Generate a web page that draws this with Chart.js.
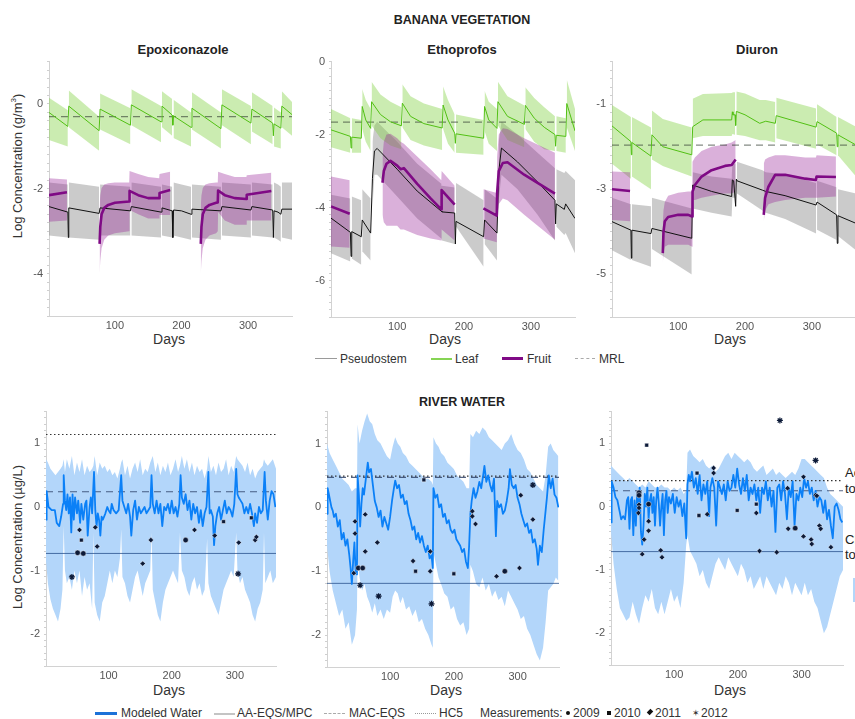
<!DOCTYPE html>
<html><head><meta charset="utf-8">
<script src="https://cdn.jsdelivr.net/npm/chart.js@4.4.1/dist/chart.umd.min.js"></script>
<style>
html,body{margin:0;padding:0;background:#fff;}
body{width:855px;height:719px;overflow:hidden;position:relative;font-family:"Liberation Sans",Arial,sans-serif;}
.t{position:absolute;white-space:nowrap;color:#222;line-height:1;}
.b{font-weight:bold;}
.ctr{transform:translateX(-50%);}
.yt{position:absolute;white-space:nowrap;font-size:13px;color:#333;transform:translate(-50%,-50%) rotate(-90deg);line-height:1;}
.lg{position:absolute;white-space:nowrap;font-size:12px;color:#333;line-height:1;}
.sw{position:absolute;}
</style></head><body>

<div class="t b ctr" style="left:462px;top:14px;font-size:12.5px;">BANANA VEGETATION</div>
<div class="t b ctr" style="left:183px;top:43px;font-size:13px;">Epoxiconazole</div>
<div class="t b ctr" style="left:462px;top:43px;font-size:13px;">Ethoprofos</div>
<div class="t b ctr" style="left:757px;top:43px;font-size:13px;">Diuron</div>
<div class="t b ctr" style="left:462px;top:396px;font-size:12.5px;">RIVER WATER</div>
<div class="yt" style="left:17px;top:166px;">Log Concentration (g/m<sup style="font-size:8px;">3</sup>)</div>
<div class="yt" style="left:17px;top:537px;">Log Concentration (µg/L)</div>
<div class="t ctr" style="left:169px;top:332px;font-size:14px;color:#333;">Days</div>
<div class="t ctr" style="left:445px;top:332px;font-size:14px;color:#333;">Days</div>
<div class="t ctr" style="left:730px;top:332px;font-size:14px;color:#333;">Days</div>
<div class="t ctr" style="left:169px;top:683px;font-size:14px;color:#333;">Days</div>
<div class="t ctr" style="left:446px;top:683px;font-size:14px;color:#333;">Days</div>
<div class="t ctr" style="left:730px;top:683px;font-size:14px;color:#333;">Days</div>

<div class="t" style="left:845px;top:466px;font-size:13px;">Acute</div>
<div class="t" style="left:845px;top:482px;font-size:13px;">toxicity</div>
<div class="t" style="left:845px;top:533px;font-size:13px;">Chronic</div>
<div class="t" style="left:845px;top:548px;font-size:13px;">toxicity</div>
<div class="sw" style="left:853px;top:578px;width:10px;height:24px;background:#b3d6fa;"></div>

<!-- top legend -->
<div class="sw" style="left:315px;top:358px;width:22px;height:1px;background:#9a9a9a;"></div>
<div class="lg" style="left:340px;top:353px;">Pseudostem</div>
<div class="sw" style="left:431px;top:358px;width:21px;height:1.5px;background:#86d454;"></div>
<div class="lg" style="left:455px;top:353px;">Leaf</div>
<div class="sw" style="left:502px;top:357px;width:21px;height:3px;background:#800a86;"></div>
<div class="lg" style="left:527px;top:353px;">Fruit</div>
<div class="sw" style="left:575px;top:358px;width:20px;height:0;border-top:1px dashed #aaa;"></div>
<div class="lg" style="left:599px;top:353px;">MRL</div>

<!-- bottom legend -->
<div class="sw" style="left:95px;top:712px;width:22px;height:3px;background:#1c72d8;"></div>
<div class="lg" style="left:121px;top:707px;">Modeled Water</div>
<div class="sw" style="left:214px;top:713px;width:21px;height:1.5px;background:#c4c4c4;"></div>
<div class="lg" style="left:237px;top:707px;">AA-EQS/MPC</div>
<div class="sw" style="left:324px;top:713px;width:21px;height:0;border-top:1px dashed #aaa;"></div>
<div class="lg" style="left:349px;top:707px;">MAC-EQS</div>
<div class="sw" style="left:415px;top:713px;width:21px;height:0;border-top:1px dotted #999;"></div>
<div class="lg" style="left:439px;top:707px;">HC5</div>
<div class="lg" style="left:480px;top:707px;">Measurements:</div>
<div class="sw" style="left:566px;top:711px;width:4px;height:4px;border-radius:50%;background:#111;"></div>
<div class="lg" style="left:573px;top:707px;">2009</div>
<div class="sw" style="left:607px;top:711px;width:4px;height:4px;background:#111;"></div>
<div class="lg" style="left:614px;top:707px;">2010</div>
<div class="sw" style="left:648px;top:710px;width:4px;height:4px;background:#111;transform:rotate(45deg) scaleY(1.3);"></div>
<div class="lg" style="left:655px;top:707px;">2011</div>
<div class="lg" style="left:692px;top:709px;font-size:9px;">&#10038;</div>
<div class="lg" style="left:701px;top:707px;">2012</div>

<script>
// ---------------- BANANA VEGETATION: Epoxiconazole ----------------
const epoxLeafDays = [1,29.3,30,30.7,76.3,77,77.7,123.3,124,124.7,169.3,170,170.7,186,187,188,214.3,215,215.7,259.3,260,260.7,304.3,305,305.7,337,338,339,349.3,350,350.7,366];
const epoxLeafMean = [-0.2,-0.53,null,-0.05,-0.63,null,-0.12,-0.5,null,-0.02,-0.42,null,-0.05,-0.26,-0.5,-0.28,-0.55,null,-0.1,-0.58,null,-0.02,-0.45,null,-0.12,-0.45,-0.75,-0.47,-0.57,null,-0.05,-0.25];
const epoxLeafHigh = [0.15,-0.15,null,0.32,-0.3,null,0.25,-0.1,null,0.35,-0.05,null,0.3,0.12,null,0.1,-0.2,null,0.28,-0.2,null,0.35,-0.05,null,0.28,-0.05,null,-0.08,-0.2,null,0.3,0.05];
const epoxLeafLow  = [-0.85,-1.0,null,-0.55,-1.1,null,-0.6,-0.95,null,-0.5,-0.9,null,-0.55,-0.75,null,-0.8,-1.0,null,-0.6,-1.05,null,-0.5,-0.95,null,-0.65,-0.95,null,-1.0,-1.05,null,-0.55,-0.75];

const epoxStemDays = [1,29.3,30,30.7,76.3,77,77.7,123.3,124,124.7,169.3,170,170.7,186,187,188,200,214.3,215,215.7,259.3,260,260.7,304.3,305,305.7,337,338,339,345,349.3,350,350.7,366];
const epoxStemMean = [-2.42,-2.55,-3.15,-2.45,-2.58,null,-2.45,-2.52,null,-2.42,-2.55,null,-2.45,-2.52,-3.15,-2.5,-2.52,-2.6,null,-2.48,-2.52,null,-2.42,-2.5,null,-2.42,-2.5,-3.15,-2.52,-2.55,-2.6,null,-2.48,-2.48];
const epoxStemHigh = [-1.85,-1.9,null,-1.85,-1.95,null,-1.9,-1.95,null,-1.85,-1.95,null,-1.9,-1.95,null,-1.85,-1.9,-1.95,null,-1.9,-1.95,null,-1.85,-1.9,null,-1.85,-1.9,null,-1.85,-1.9,-1.95,null,-1.85,-1.85];
const epoxStemLow  = [-3.1,-3.15,null,-3.15,-3.2,null,-3.1,-3.1,null,-3.1,-3.15,null,-3.1,-3.15,null,-3.1,-3.15,-3.2,null,-3.15,-3.2,null,-3.1,-3.15,null,-3.1,-3.15,null,-3.15,-3.2,-3.25,null,-3.15,-3.2];

const epoxFruitDays = [1,28,29,77,78,80,84,90,100,121.5,122,135,150,166.5,167,183,184,229,230,232,236,242,252,254.5,255,265,280,297.5,298,335];
const epoxFruitMean = [-2.15,-2.08,null,-3.3,-2.9,-2.6,-2.45,-2.38,-2.33,-2.3,-2.05,-2.15,-2.22,-2.22,-2.1,-2.03,null,-3.3,-2.9,-2.6,-2.45,-2.38,-2.33,-2.32,-2.04,-2.15,-2.22,-2.24,-2.14,-2.05];
const epoxFruitHigh = [-1.75,-1.78,null,-2.4,-2.15,-1.98,-1.9,-1.87,-1.85,-1.85,-1.58,-1.65,-1.72,-1.75,-1.65,-1.6,null,-2.4,-2.15,-1.98,-1.9,-1.87,-1.85,-1.85,-1.6,-1.65,-1.72,-1.72,-1.68,-1.62];
const epoxFruitLow  = [-2.78,-2.75,null,-4.0,-3.7,-3.4,-3.2,-3.1,-3.05,-3.0,-2.5,-2.6,-2.7,-2.7,-2.62,-2.62,null,-4.0,-3.7,-3.4,-3.2,-3.1,-3.05,-3.0,-2.55,-2.75,-2.85,-2.85,-2.75,-2.75];
const epoxMRL = -0.3;

// ---------------- Ethoprofos ----------------
const ethoLeafDays = [1,30,31,32,46.3,47,47.7,53,60.3,61,61.7,75,90,106.3,107,107.7,120,140,167.3,168,168.7,176,186,187,188,229.3,230,230.7,237,249.3,250,250.7,265,290.3,291,291.7,305,320,336,337,338,352.3,353,353.7,366];
const ethoLeafMean = [-1.87,-2.05,-2.37,-2.07,-2.1,null,-1.23,-1.6,-1.83,null,-1.1,-1.45,-1.65,-1.76,null,-1.14,-1.5,-1.7,-1.82,null,-1.19,-1.6,-1.96,-2.24,-1.98,-2.1,null,-1.23,-1.6,-1.83,null,-1.1,-1.5,-1.72,null,-1.2,-1.55,-1.8,-2.0,-2.32,-2.02,-2.05,null,-1.15,-1.9];
const ethoLeafHigh = [-1.3,-1.55,null,-1.55,-1.6,null,-0.75,-1.05,-1.3,null,-0.55,-0.9,-1.1,-1.25,null,-0.62,-0.95,-1.15,-1.3,null,-0.68,-1.05,-1.45,null,-1.45,-1.6,null,-0.8,-1.1,-1.3,null,-0.55,-0.95,-1.2,null,-0.7,-1.0,-1.25,-1.5,null,-1.5,-1.55,null,-0.5,-1.3];
const ethoLeafLow  = [-2.35,-2.5,null,-2.5,-2.5,null,-1.85,-2.2,-2.45,null,-1.75,-2.1,-2.3,-2.4,null,-1.8,-2.15,-2.3,-2.42,null,-1.85,-2.25,-2.5,null,-2.5,-2.55,null,-1.9,-2.25,-2.45,null,-1.75,-2.15,-2.35,null,-1.85,-2.2,-2.4,-2.45,null,-2.45,-2.5,null,-1.8,-2.45];

const ethoStemDays = [1,30,31,32,46.3,47,47.7,60.3,61,63,66,70,100,130,166,167,186,187,188,229.3,230,230.7,249.3,250,252,256,280,310,336,337,338,350,352,366];
const ethoStemMean = [-4.29,-4.68,-5.34,-4.66,-4.8,null,-4.34,-4.7,null,-3.2,-2.45,-2.38,-2.95,-3.55,-4.1,-4.12,-4.15,-5.0,-4.38,-4.8,null,-4.34,-4.7,null,-3.0,-2.37,-2.75,-3.3,-3.8,-4.45,-3.9,-4.05,-3.9,-4.3];
const ethoStemHigh = [-3.65,-3.75,null,-3.7,-3.8,null,-3.5,-3.75,null,-2.2,-1.75,-1.65,-2.2,-2.8,-3.35,-3.4,-3.45,null,-3.33,-3.8,null,-3.5,-3.75,null,-2.2,-1.65,-2.0,-2.5,-2.92,null,-2.95,-3.05,-3.0,-3.25];
const ethoStemLow  = [-5.25,-5.48,null,-5.4,-5.57,null,-5.2,-5.45,null,-4.0,-3.1,-3.1,-3.7,-4.3,-4.85,-4.9,-5.0,null,-4.52,-5.62,null,-5.0,-5.45,null,-3.8,-3.1,-3.5,-4.2,-4.9,null,-4.52,-4.75,-4.7,-5.25];

const ethoFruitDays = [1,29,30,78,80,84,90,100,105,110,130,150,166,166.5,186,187,229,249,249.5,252,258,265,290,336];
const ethoFruitMean = [-3.97,-4.17,null,-3.32,-3.0,-2.8,-2.72,-2.85,-2.95,-2.92,-3.35,-3.75,-4.05,-3.52,-3.92,null,-4.02,-4.22,-3.6,-3.0,-2.78,-2.76,-3.1,-3.62];
const ethoFruitHigh = [-3.15,-3.25,null,-2.6,-2.2,-2.0,-1.98,-2.1,-2.2,-2.25,-2.6,-2.95,-3.25,-3.0,-3.4,null,-3.5,-3.6,-2.6,-2.0,-1.83,-1.85,-2.1,-2.5];
const ethoFruitLow  = [-5.07,-5.1,null,-4.2,-4.4,-4.5,-4.5,-4.5,-4.6,-4.6,-4.75,-4.85,-4.9,-4.6,-4.9,null,-4.85,-4.95,-4.3,-3.9,-3.75,-3.8,-4.2,-4.88];
const ethoMRL = -1.66;

// ---------------- Diuron ----------------
const diurLeafDays = [1,29.3,30,30.7,59.3,60,60.7,77,120.3,121,121.7,137,180,181,182,185,186,187,200,222,231,245.3,246,246.7,306.3,307,307.7,337,338,339,366];
const diurLeafMean = [-1.51,-1.88,-2.19,-1.9,-2.22,null,-1.72,-2.0,-2.19,null,-1.53,-1.37,-1.37,-1.18,-1.25,-1.25,-1.5,-1.17,-1.25,-1.45,-1.4,-1.45,null,-1.27,-1.54,null,-1.41,-1.68,-2.0,-1.72,-1.96];
const diurLeafHigh = [-1.02,-1.3,null,-1.3,-1.55,null,-1.15,-1.35,-1.55,null,-0.87,-0.76,-0.74,-0.72,-0.72,-0.72,null,-0.7,-0.75,-0.9,-0.9,-0.95,null,-0.85,-1.1,null,-1.0,-1.3,null,-1.3,-1.53];
const diurLeafLow  = [-2.4,-2.75,null,-2.7,-3.0,null,-2.3,-2.45,-2.7,null,-1.8,-1.75,-1.75,-1.7,-1.7,-1.72,null,-1.72,-1.75,-1.85,-1.85,-1.9,null,-1.8,-2.05,null,-1.95,-2.2,null,-2.2,-2.7];

const diurStemDays = [1,29.3,30,30.7,59.3,60,60.7,120.3,121,121.7,150,180,181,183,186,187,188,226,231,260,306.3,307,307.7,337,338,339,366];
const diurStemMean = [-3.76,-3.96,-4.62,-3.96,-4.04,null,-3.92,-4.15,null,-2.9,-3.05,-3.17,-2.78,-2.8,-3.4,-2.76,-2.8,-3.02,-3.05,-3.15,-3.37,null,-3.3,-3.6,-4.27,-3.62,-3.8];
const diurStemHigh = [-3.2,-3.35,null,-3.35,-3.4,null,-3.2,-3.45,null,-2.6,-2.7,-2.75,-2.4,-2.4,-2.4,null,-2.35,-2.55,-2.6,-2.65,-2.85,null,-2.8,-2.95,null,-3.0,-3.1];
const diurStemLow  = [-4.43,-4.66,null,-4.66,-4.82,null,-4.4,-5.0,null,-3.45,-3.55,-3.64,-3.2,-3.2,-3.2,null,-3.1,-3.5,-3.55,-3.7,-4.04,null,-3.95,-4.19,null,-4.1,-4.43];

const diurFruitDays = [1,28,29,77,78,80,85,100,115,121,121.5,125,135,150,170,180,186,187,228,230,235,245,260,290,306,307,336];
const diurFruitMean = [-3.0,-3.04,null,-4.5,-4.0,-3.75,-3.65,-3.6,-3.6,-3.64,-3.05,-2.9,-2.7,-2.55,-2.45,-2.43,-2.3,null,-3.6,-3.2,-2.94,-2.66,-2.66,-2.75,-2.78,-2.7,-2.71];
const diurFruitHigh = [-2.58,-2.6,null,-3.8,-3.5,-3.3,-3.15,-3.08,-3.05,-3.05,-2.35,-2.25,-2.1,-2.0,-1.95,-1.9,-1.84,null,-2.4,-2.3,-2.25,-2.2,-2.2,-2.25,-2.25,-2.2,-2.23];
const diurFruitLow  = [-3.72,-3.75,null,-4.75,-4.5,-4.35,-4.3,-4.3,-4.3,-4.35,-3.25,-3.25,-3.2,-3.15,-3.1,-3.1,-3.05,null,-3.75,-3.5,-3.35,-3.3,-3.25,-3.2,-3.2,-3.2,-3.17];
const diurMRL = -1.96;

// ---------------- RIVER WATER: Epoxiconazole ----------------
const epoxWaterDays = [1,2,5,10,15,18,22,25,28,29,31,33,35,37,39,41,43,45,47,50,52,55,57,60,63,65,67,70,72,74,77,79,81,83,85,87,89,91,95,98,100,103,105,108,112,116,120,122,125,128,131,134,136,139,142,145,148,151,154,157,160,163,166,168,170,173,176,179,182,185,188,191,194,197,200,203,206,209,212,214,216,219,222,225,228,231,234,237,240,243,246,249,252,255,258,260,262,265,267,269,272,275,278,281,284,287,290,293,296,299,302,304,306,309,312,315,318,321,324,327,330,332,335,338,341,344,347,349,352,355,358,361,364];
const epoxWater = [-0.2,0.25,0.0,-0.05,-0.05,-0.25,-0.3,-0.15,0.05,0.5,0.1,-0.05,0.2,-0.1,0.15,-0.4,0.2,-0.2,0.15,-0.1,0.1,-0.25,0.05,-0.2,0.05,0.1,-0.45,0.0,0.15,-0.1,0.55,-0.05,-0.3,-0.1,-0.2,-0.45,-0.15,-0.2,-0.1,0.0,-0.05,-0.1,0.05,-0.05,-0.1,-0.05,0.5,0.1,0.0,-0.1,0.05,-0.15,-0.45,-0.05,0.1,-0.2,0.0,-0.1,-0.05,0.0,-0.1,-0.05,0.0,0.5,0.05,-0.1,0.1,-0.1,0.05,-0.3,0.0,-0.05,0.05,-0.1,0.1,-0.1,0.0,-0.15,0.05,0.5,0.15,0.05,0.2,-0.05,0.1,-0.2,0.05,-0.1,0.0,-0.25,-0.05,-0.3,-0.1,0.0,0.55,-0.1,-0.05,-0.15,-0.6,-0.3,-0.1,0.0,-0.2,-0.05,0.1,-0.1,0.0,-0.05,-0.15,0.05,0.6,0.2,0.15,0.1,0.05,-0.1,0.0,-0.1,0.05,-0.1,-0.3,-0.1,-0.25,0.0,-0.1,-0.05,0.55,0.1,-0.2,0.1,0.25,0.2,0.0];
const epoxBandDays = [1,4,8,12,16,20,24,27,29,31,34,38,42,46,50,54,58,62,66,70,74,76,78,82,86,90,94,98,102,106,110,114,118,120,122,126,130,134,138,142,146,150,154,158,162,166,168,170,174,178,182,186,190,194,198,202,206,210,213,216,220,224,228,232,236,240,244,248,252,256,258,262,266,270,274,278,282,286,290,294,298,302,304,308,312,316,320,324,328,332,336,340,344,346,348,352,356,360,365];
const epoxBandHigh = [0.75,0.7,0.6,0.55,0.5,0.55,0.6,0.65,0.75,0.55,0.75,0.6,0.8,0.5,0.7,0.55,0.75,0.5,0.65,0.55,0.6,0.65,0.8,0.5,0.7,0.6,0.65,0.55,0.6,0.5,0.55,0.45,0.6,0.7,0.75,0.5,0.65,0.45,0.6,0.7,0.55,0.75,0.5,0.6,0.55,0.7,0.75,0.8,0.55,0.7,0.5,0.65,0.55,0.7,0.5,0.6,0.75,0.55,0.65,0.8,0.6,0.75,0.55,0.7,0.5,0.65,0.55,0.6,0.45,0.6,0.8,0.55,0.65,0.5,0.7,0.55,0.6,0.75,0.5,0.65,0.55,0.8,0.75,0.7,0.65,0.55,0.7,0.5,0.6,0.45,0.55,0.6,0.65,0.75,0.7,0.65,0.7,0.75,0.6];
const epoxBandLow  = [-0.85,-1.2,-1.45,-1.6,-1.7,-1.8,-1.6,-1.3,-0.3,-1.0,-1.2,-1.1,-1.3,-1.0,-1.2,-1.0,-1.4,-1.1,-1.3,-1.2,-1.6,-0.4,-1.5,-1.7,-1.8,-1.5,-1.4,-1.2,-1.0,-1.2,-1.0,-1.1,-0.8,-0.35,-1.1,-1.2,-1.4,-1.5,-1.3,-1.1,-1.0,-1.2,-1.4,-1.2,-1.1,-1.0,-0.4,-1.3,-1.5,-1.7,-1.8,-1.5,-1.3,-1.2,-1.1,-1.0,-1.1,-1.2,-0.4,-1.0,-1.1,-1.3,-1.4,-1.2,-1.1,-1.3,-1.2,-1.4,-1.3,-0.5,-1.2,-1.4,-1.5,-1.6,-1.7,-1.5,-1.3,-1.2,-1.1,-1.0,-1.1,-0.4,-1.0,-1.2,-1.1,-1.3,-1.4,-1.5,-1.7,-1.8,-1.6,-1.5,-1.3,-0.4,-1.2,-1.1,-1.0,-1.2,-1.1];
const epoxLimits = {hc5: 1.14, mac: 0.24, aa: -0.73};
const epoxMeas2009 = [[51,-0.72],[60,-0.73],[222,-0.52]];
const epoxMeas2010 = [[57,-0.52],[326,-0.17],[282,-0.23]];
const epoxMeas2011 = [[54,-0.36],[79,-0.32],[82,-0.62],[154,-0.89],[167,-0.52],[236,-0.36],[268,-0.45],[306,-0.56],[332,-0.52],[334,-0.47]];
const epoxMeas2012 = [[42,-1.1],[305,-1.05]];

// ---------------- RIVER WATER: Ethoprofos ----------------
const ethoWaterDays = [1,2,5,8,10,12,15,18,21,24,27,30,33,36,38,40,42,44,46,48,49,51,53,55,57,59,62,65,67,70,73,76,79,82,85,88,91,94,97,100,103,106,108,111,114,117,120,123,126,129,132,135,138,141,144,147,150,153,156,159,162,165,167,168,171,174,177,180,183,186,189,192,195,198,201,204,207,210,213,216,219,222,224,226,228,231,234,237,240,243,246,248,251,254,257,260,263,266,268,271,274,277,280,283,286,288,291,294,297,300,303,306,309,312,315,318,321,324,327,330,332,335,338,341,344,346,349,352,355,358,361,364];
const ethoWater = [-0.1,0.3,0.15,0.0,-0.05,-0.15,-0.1,-0.3,-0.2,-0.5,-0.4,-0.6,-0.5,-0.75,-0.95,-1.2,-0.85,-0.55,-1.0,-1.05,0.5,0.2,-0.3,0.05,0.3,0.2,0.45,0.7,0.55,0.6,0.35,0.1,0.0,-0.15,-0.05,-0.3,-0.15,-0.25,-0.35,-0.15,0.1,0.3,0.42,0.3,0.35,0.15,0.2,0.05,0.1,-0.1,-0.2,-0.35,-0.3,-0.5,-0.4,-0.55,-0.45,-0.6,-0.7,-0.6,-0.8,-0.75,-0.95,0.3,0.15,0.2,0.0,0.05,-0.15,-0.1,-0.25,-0.2,-0.35,-0.4,-0.35,-0.5,-0.55,-0.6,-0.7,-0.65,-0.85,-0.95,-0.6,-0.1,0.1,0.3,0.15,0.25,0.4,0.3,0.5,0.65,0.4,0.5,0.35,0.25,0.45,-0.45,0.1,0.0,0.05,-0.1,-0.05,0.1,0.3,0.6,0.35,0.3,0.35,0.15,0.05,-0.1,-0.2,-0.3,-0.25,-0.4,-0.35,-0.55,-0.5,-0.65,-0.9,-0.6,-0.7,-0.35,-0.05,0.15,0.5,0.3,0.45,0.2,0.15,0.0];
const ethoBandDays = [1,5,10,15,20,25,30,35,40,45,48,49,52,56,60,64,68,72,76,80,85,90,95,100,104,108,112,116,120,125,130,135,140,145,150,155,160,165,167,168,172,176,180,185,190,195,200,205,210,215,220,224,226,230,235,240,245,250,255,260,265,270,275,280,285,290,295,300,305,310,315,320,325,330,335,340,344,348,352,356,360,364];
const ethoBandHigh = [1.0,0.85,0.75,0.65,0.55,0.45,0.4,0.35,0.25,0.3,0.3,1.3,1.0,1.2,1.35,1.47,1.35,1.3,1.15,1.05,1.0,0.9,0.8,0.75,0.95,1.1,1.0,0.95,0.85,0.8,0.7,0.65,0.6,0.55,0.5,0.45,0.45,0.4,0.35,1.1,1.0,0.95,0.85,0.8,0.7,0.65,0.6,0.5,0.45,0.4,0.3,0.3,1.15,1.1,1.2,1.15,1.25,1.2,1.1,1.05,1.0,0.95,0.9,1.0,1.05,1.15,1.0,0.9,0.85,0.75,0.6,0.55,0.45,0.35,0.3,0.25,0.5,0.95,1.0,0.9,0.85,0.8];
const ethoBandLow  = [-0.6,-1.0,-1.3,-1.5,-1.7,-1.6,-1.9,-1.8,-2.15,-2.0,-1.6,-0.8,-1.1,-1.3,-1.2,-1.4,-1.5,-1.65,-1.5,-1.7,-1.6,-1.75,-1.6,-1.65,-1.4,-1.3,-1.35,-1.5,-1.4,-1.6,-1.55,-1.7,-1.6,-1.8,-1.75,-1.9,-2.0,-2.15,-2.2,-0.7,-0.9,-1.1,-1.2,-1.35,-1.4,-1.6,-1.55,-1.75,-1.85,-1.8,-2.0,-1.9,-0.9,-1.0,-1.2,-1.25,-1.1,-1.3,-1.2,-1.4,-1.3,-1.45,-1.4,-1.55,-1.3,-1.4,-1.5,-1.6,-1.75,-1.7,-1.9,-2.0,-2.15,-2.3,-2.4,-2.2,-1.8,-1.3,-1.25,-1.2,-1.1,-1.15];
const ethoLimits = {hc5: 0.49, mac: 0.47, aa: -1.19};
const ethoMeas2009 = [[50,-0.95],[57,-0.95],[280,-1.0]];
const ethoMeas2010 = [[200,-1.04],[140,-1.0],[153,0.43]];
const ethoMeas2011 = [[43,-1.03],[45,-0.22],[45,-0.41],[61,-0.69],[61,-0.11],[80,-0.55],[136,-0.84],[163,-0.69],[163,-1.0],[229,-0.06],[229,-0.14],[234,-0.26],[267,-1.08],[303,-0.95],[305,0.19],[324,-0.19]];
const ethoMeas2012 = [[53,-1.22],[82,-1.39],[165,-1.51],[324,0.35]];

// ---------------- RIVER WATER: Diuron ----------------
const diurWaterDays = [1,2,5,8,11,14,17,20,23,26,28,30,32,34,36,38,40,42,44,46,48,50,52,54,56,58,60,62,64,66,68,70,72,74,76,78,80,82,84,86,88,90,92,95,98,101,104,107,110,113,116,119,121,123,125,128,131,134,137,140,143,146,149,152,155,157,160,163,166,169,172,175,178,181,184,187,190,193,196,199,202,205,208,211,214,217,220,223,226,229,232,235,238,241,244,247,250,253,256,259,262,265,268,271,274,277,280,283,286,289,292,295,298,301,304,307,310,313,316,319,322,325,328,331,334,337,340,343,346,349,352,355,358,361,364];
const diurWater = [-0.25,0.4,0.3,0.15,0.1,-0.05,-0.2,-0.15,-0.2,0.1,0.15,-0.35,0.1,0.15,-0.45,0.1,-0.3,0.2,-0.1,0.3,-0.4,-0.6,-0.3,0.2,0.0,0.3,-0.2,0.1,0.2,-0.1,0.15,-0.3,0.1,0.3,0.05,-0.3,0.0,0.2,-0.45,0.1,0.25,-0.1,0.15,0.05,0.2,-0.1,0.15,0.0,0.1,-0.15,0.05,-0.5,0.35,0.5,0.4,0.55,0.3,0.45,0.2,0.5,0.1,0.35,0.2,0.4,-0.15,0.3,0.45,0.3,-0.3,0.4,0.3,0.2,0.35,0.1,0.4,0.25,0.3,0.5,0.3,0.6,0.35,0.2,0.45,0.25,0.5,0.1,0.3,0.2,0.35,0.1,0.3,-0.1,0.3,0.2,0.4,0.1,0.3,0.0,0.25,-0.4,0.3,0.35,0.1,0.4,0.2,-0.2,0.3,0.15,0.4,-0.3,0.2,0.1,0.3,0.15,0.45,0.3,0.4,0.2,0.3,0.1,0.25,0.0,0.15,0.1,-0.1,0.1,-0.2,-0.05,-0.3,-0.5,0.0,0.05,-0.05,-0.2,-0.25];
const diurBandDays = [1,5,10,15,20,25,30,35,40,45,50,55,60,65,70,75,80,85,90,95,100,105,110,115,119,121,125,130,135,140,145,150,155,160,165,170,175,180,185,190,195,200,205,210,215,220,225,230,235,240,245,250,255,260,265,270,275,280,285,290,295,300,305,310,315,320,325,330,335,340,345,350,355,360,365];
const diurBandHigh = [0.65,0.6,0.55,0.5,0.45,0.4,0.45,0.4,0.35,0.3,0.35,0.3,0.4,0.35,0.3,0.3,0.35,0.3,0.3,0.25,0.3,0.25,0.3,0.2,0.25,0.85,0.9,0.8,0.75,0.7,0.75,0.65,0.6,0.65,0.55,0.6,0.7,0.8,0.85,0.75,0.85,0.8,0.75,0.7,0.75,0.7,0.6,0.55,0.6,0.65,0.5,0.55,0.6,0.5,0.55,0.5,0.45,0.5,0.55,0.5,0.6,0.75,0.75,0.7,0.65,0.6,0.55,0.5,0.45,0.3,0.2,0.15,0.1,0.05,0.0];
const diurBandLow  = [-0.4,-0.9,-1.3,-1.6,-1.7,-1.8,-1.75,-1.5,-1.7,-1.85,-1.6,-1.4,-1.5,-1.3,-1.6,-1.7,-1.5,-1.7,-1.5,-1.3,-1.5,-1.4,-1.6,-1.2,-0.6,-0.45,-0.7,-0.8,-0.9,-1.1,-1.0,-1.2,-1.3,-1.1,-0.9,-0.8,-0.9,-1.0,-0.8,-0.9,-1.0,-1.1,-0.9,-1.0,-1.2,-1.1,-1.3,-1.2,-1.1,-1.3,-1.1,-1.2,-1.3,-1.4,-1.2,-1.3,-1.1,-1.2,-1.4,-1.2,-1.3,-1.4,-1.2,-1.4,-1.3,-1.5,-1.6,-1.8,-2.0,-1.9,-1.7,-1.5,-1.3,-1.1,-1.0];
const diurLimits = {hc5: 0.41, mac: 0.25, aa: -0.71};
const diurMeas2009 = [[45,0.22],[45,0.18],[60,0.04],[290,-0.34]];
const diurMeas2010 = [[57,0.97],[136,0.53],[139,-0.14],[199,-0.06],[229,0.04]];
const diurMeas2011 = [[45,0.03],[45,-0.02],[44,-0.1],[53,-0.52],[50,-0.75],[60,-0.23],[60,-0.38],[79,-0.69],[81,-0.8],[152,-0.12],[162,0.61],[162,0.53],[229,-0.1],[234,-0.7],[261,-0.72],[278,0.29],[279,-0.35],[303,0.47],[303,-0.47],[315,-0.52],[316,-0.59],[322,0.18],[324,0.17],[328,-0.3],[330,-0.35],[346,-0.64]];
const diurMeas2012 = [[266,1.36],[322,0.73]];

// tick labels
const dayTicks = [100,200,300];
const epoxVegTicks = [0,-2,-4];
const ethoVegTicks = [0,-2,-4,-6];
const diurVegTicks = [-1,-3,-5];
const waterTicks = [-2,-1,0,1];

// ---------------- drawing ----------------
Chart.defaults.font.family = "'Liberation Sans', Arial, sans-serif";
const C = {
  leafLine:'#52c014', leafBand:'rgba(130,210,70,0.42)',
  stemLine:'#111111', stemBand:'rgba(140,140,140,0.45)',
  fruitLine:'#7f0a85', fruitBand:'rgba(150,30,150,0.35)',
  mrl:'rgba(50,60,50,0.6)',
  waterLine:'#0b80f7', waterBand:'#b3d6fa',
  aa:'rgba(40,80,140,0.8)', mac:'rgba(40,60,100,0.8)', hc5:'#333',
  meas:'#0c1a38'
};
function pts(xs, ys){ return xs.map((x,i)=>({x:x, y:(ys[i]===undefined?null:ys[i])})); }
function pairs(a){ return a.map(p=>({x:p[0], y:p[1]})); }
function band(xs, hi, lo, color, order){
  return [
    {data:pts(xs,hi), borderColor:'rgba(0,0,0,0)', borderWidth:0, pointRadius:0, fill:false, order:order, spanGaps:false},
    {data:pts(xs,lo), borderColor:'rgba(0,0,0,0)', borderWidth:0, pointRadius:0, fill:'-1', backgroundColor:color, order:order, spanGaps:false}
  ];
}
function line(xs, ys, color, width, order, span){
  return {data:pts(xs,ys), borderColor:color, borderWidth:width, pointRadius:0, fill:false, order:order, spanGaps:span, borderJoinStyle:'round', tension:0};
}
function hline(v, color, dash, order, x0, x1, w){
  return {data:[{x:x0,y:v},{x:x1,y:v}], borderColor:color, borderWidth:w||1, borderDash:dash, pointRadius:0, fill:false, order:order};
}
function meas(arr, style){
  const star = style==='star';
  return {data:pairs(arr), showLine:false, pointStyle:style, pointRadius:star?3:2.7,
    backgroundColor:C.meas, borderColor:star?C.meas:'rgba(255,255,255,0.55)', borderWidth:star?1.2:0.8, order:0};
}
function vegSets(p){
  return [].concat(
    band(p.stemX, p.stemHi, p.stemLo, C.stemBand, 10),
    band(p.leafX, p.leafHi, p.leafLo, C.leafBand, 9),
    band(p.fruitX, p.fruitHi, p.fruitLo, C.fruitBand, 8),
    [hline(p.mrl, C.mrl, [7,5], 4, 1, 366, 1.2),
     line(p.stemX, p.stemY, C.stemLine, 1, 3, true),
     line(p.leafX, p.leafY, C.leafLine, 1, 3, true),
     line(p.fruitX, p.fruitY, C.fruitLine, 2.6, 2, false)]
  );
}
function waterSets(p){
  return [].concat(
    band(p.bandX, p.hi, p.lo, C.waterBand, 10),
    [line(p.x, p.y, C.waterLine, 1.8, 3, true),
     hline(p.lim.aa, C.aa, [], 4, 1, 366, 1),
     hline(p.lim.mac, C.mac, [7,5], 4, 1, 366, 1.1),
     hline(p.lim.hc5, C.hc5, [1.5,2.5], 4, 1, 366, 1.2),
     meas(p.m09,'circle'), meas(p.m10,'rect'), meas(p.m11,'rectRot'), meas(p.m12,'star')]
  );
}
function panel(box, datasets, yMin, yMax, yTicks, xMin, xMax, minorStep){
  const YW=34, XH=22, PT=10, PR=8;
  const w = box.R-box.L+YW+PR, h = box.B-box.T+PT+XH;
  const c = document.createElement('canvas');
  c.width=w; c.height=h;
  c.style.cssText = 'position:absolute;left:'+(box.L-YW)+'px;top:'+(box.T-PT)+'px;width:'+w+'px;height:'+h+'px;';
  document.body.appendChild(c);
  const nMinor = Math.round((yMax-yMin)/minorStep);
  new Chart(c, {type:'line', data:{datasets:datasets}, options:{
    responsive:false, animation:false, devicePixelRatio:1,
    layout:{padding:{top:PT,right:PR,left:0,bottom:0}},
    plugins:{legend:{display:false}, tooltip:{enabled:false}},
    elements:{line:{tension:0}},
    scales:{
      x:{type:'linear', min:xMin, max:xMax,
         afterFit:s=>{s.height=XH;},
         afterBuildTicks:s=>{s.ticks=dayTicks.map(v=>({value:v}));},
         grid:{display:false, drawTicks:false},
         border:{display:true, color:'#d2d2d2', width:1},
         ticks:{padding:3, color:'#555', font:{size:11}, autoSkip:false, maxRotation:0}},
      y:{type:'linear', min:yMin, max:yMax,
         afterFit:s=>{s.width=YW;},
         afterBuildTicks:s=>{
           const arr=[];
           for(let i=0;i<=nMinor;i++){ arr.push({value: Math.round((yMin+i*minorStep)*1000)/1000}); }
           s.ticks=arr;
         },
         grid:{display:true, drawOnChartArea:false, drawTicks:true, tickLength:2, color:'#cfcfcf', lineWidth:1},
         border:{display:true, color:'#d2d2d2', width:1},
         ticks:{padding:4, color:'#555', font:{size:11}, autoSkip:false,
           callback:v=>(yTicks.indexOf(v)>=0 ? String(v).replace('-','-') : '')}}
    }}});
}

panel({L:49,R:292,T:61,B:316}, vegSets({
  leafX:epoxLeafDays, leafY:epoxLeafMean, leafHi:epoxLeafHigh, leafLo:epoxLeafLow,
  stemX:epoxStemDays, stemY:epoxStemMean, stemHi:epoxStemHigh, stemLo:epoxStemLow,
  fruitX:epoxFruitDays, fruitY:epoxFruitMean, fruitHi:epoxFruitHigh, fruitLo:epoxFruitLow, mrl:epoxMRL}),
  -5, 1, epoxVegTicks, 1, 366, 0.2);
panel({L:331,R:575,T:61,B:317}, vegSets({
  leafX:ethoLeafDays, leafY:ethoLeafMean, leafHi:ethoLeafHigh, leafLo:ethoLeafLow,
  stemX:ethoStemDays, stemY:ethoStemMean, stemHi:ethoStemHigh, stemLo:ethoStemLow,
  fruitX:ethoFruitDays, fruitY:ethoFruitMean, fruitHi:ethoFruitHigh, fruitLo:ethoFruitLow, mrl:ethoMRL}),
  -7, 0, ethoVegTicks, 1, 366, 0.2);
panel({L:612,R:856,T:61,B:317}, vegSets({
  leafX:diurLeafDays, leafY:diurLeafMean, leafHi:diurLeafHigh, leafLo:diurLeafLow,
  stemX:diurStemDays, stemY:diurStemMean, stemHi:diurStemHigh, stemLo:diurStemLow,
  fruitX:diurFruitDays, fruitY:diurFruitMean, fruitHi:diurFruitHigh, fruitLo:diurFruitLow, mrl:diurMRL}),
  -6, 0, diurVegTicks, 1, 366, 0.2);

panel({L:46,R:276,T:411,B:666}, waterSets({
  x:epoxWaterDays, y:epoxWater, bandX:epoxBandDays, hi:epoxBandHigh, lo:epoxBandLow, lim:epoxLimits,
  m09:epoxMeas2009, m10:epoxMeas2010, m11:epoxMeas2011, m12:epoxMeas2012}),
  -2.5, 1.5, waterTicks, 1, 365, 0.1);
panel({L:327,R:559,T:411,B:667}, waterSets({
  x:ethoWaterDays, y:ethoWater, bandX:ethoBandDays, hi:ethoBandHigh, lo:ethoBandLow, lim:ethoLimits,
  m09:ethoMeas2009, m10:ethoMeas2010, m11:ethoMeas2011, m12:ethoMeas2012}),
  -2.5, 1.5, waterTicks, 1, 365, 0.1);
panel({L:611,R:843,T:411,B:665}, waterSets({
  x:diurWaterDays, y:diurWater, bandX:diurBandDays, hi:diurBandHigh, lo:diurBandLow, lim:diurLimits,
  m09:diurMeas2009, m10:diurMeas2010, m11:diurMeas2011, m12:diurMeas2012}),
  -2.5, 1.5, waterTicks, 1, 365, 0.1);
</script>
</body></html>
